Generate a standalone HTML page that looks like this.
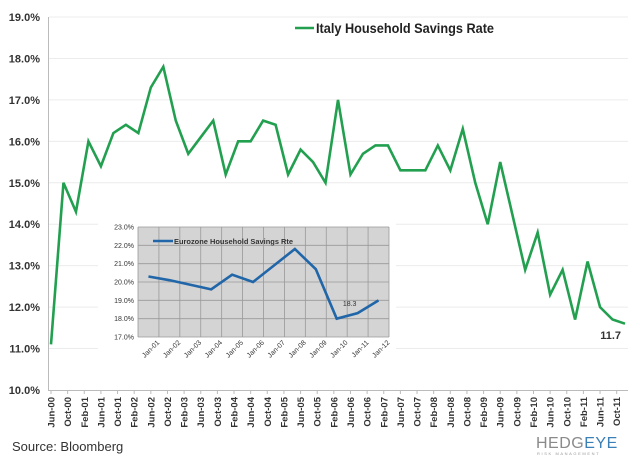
<!DOCTYPE html>
<html><head><meta charset="utf-8"><style>
body{margin:0;background:#fff;}
svg{display:block;font-family:"Liberation Sans",sans-serif;}
</style></head><body>
<svg id="c" width="640" height="465" viewBox="0 0 640 465">
<g id="main"></g>
<g id="inset"></g>
<text x="12" y="451" font-size="13" fill="#333">Source: Bloomberg</text>
<g>
<text x="536" y="448" font-size="16" fill="#8a8a8a" letter-spacing="0.5">HEDG<tspan fill="#3a7fb5">EYE</tspan></text>
<text x="537" y="455" font-size="4" fill="#999" letter-spacing="1.6">RISK MANAGEMENT</text>
</g>
</svg>
<script>
const NS="http://www.w3.org/2000/svg";
// main chart data (quarterly, Jun-00 .. Dec-11)
const italyValues=[11.1,15.0,14.3,16.0,15.4,16.2,16.4,16.2,17.3,17.8,16.5,15.7,16.1,16.5,15.2,16.0,16.0,16.5,16.4,15.2,15.8,15.5,15.0,17.0,15.2,15.7,15.9,15.9,15.3,15.3,15.3,15.9,15.3,16.3,15.0,14.0,15.5,14.2,12.9,13.8,12.3,12.9,11.7,13.1,12.0,11.7,11.6];
const xTickLabels=["Jun-00","Oct-00","Feb-01","Jun-01","Oct-01","Feb-02","Jun-02","Oct-02","Feb-03","Jun-03","Oct-03","Feb-04","Jun-04","Oct-04","Feb-05","Jun-05","Oct-05","Feb-06","Jun-06","Oct-06","Feb-07","Jun-07","Oct-07","Feb-08","Jun-08","Oct-08","Feb-09","Jun-09","Oct-09","Feb-10","Jun-10","Oct-10","Feb-11","Jun-11","Oct-11"];
const yTicks=[10,11,12,13,14,15,16,17,18,19];
// inset data
const euroCategories=["Jan-01","Jan-02","Jan-03","Jan-04","Jan-05","Jan-06","Jan-07","Jan-08","Jan-09","Jan-10","Jan-11","Jan-12"];
const euroValues=[20.3,20.1,19.85,19.6,20.4,20.0,20.9,21.8,20.7,18.0,18.3,19.0];
const euroTicks=[17,18,19,20,21,22,23];

function el(tag,attrs,parent,text){const e=document.createElementNS(NS,tag);for(const k in attrs)e.setAttribute(k,attrs[k]);if(text!=null)e.textContent=text;parent.appendChild(e);return e;}

const main=document.getElementById('main');
const X0=51,X1=625,Y10=390,Y19=17;
const xm=i=>X0+i*(X1-X0)/(italyValues.length-1); // month index /3
const xMonth=m=>X0+m*(X1-X0)/138;
const ym=v=>Y10-(v-10)*(Y10-Y19)/9;
yTicks.forEach(t=>{
  if(t>10){const g=el('line',{x1:49,x2:628,y1:ym(t),y2:ym(t),stroke:'#ececec','stroke-width':1},main);
  }
  const l=el('text',{x:40,y:ym(t)+4,'font-size':11,'font-weight':'bold','text-anchor':'end',fill:'#333'},main,t.toFixed(1)+'%');
  
});
el('line',{x1:48.5,x2:48.5,y1:17,y2:391,stroke:'#bbb'},main);
const xa=el('line',{x1:48,x2:628,y1:390.5,y2:390.5,stroke:'#bbb'},main);

xTickLabels.forEach((s,i)=>{
  const x=xMonth(i*4);
  el('line',{x1:x,x2:x,y1:390,y2:394,stroke:'#bbb'},main);
  const t=el('text',{x:0,y:0,'font-size':9.5,'font-weight':'bold',fill:'#333','text-anchor':'end',transform:`translate(${x+3.5},397) rotate(-90)`},main,s);
  
});
const pl=el('polyline',{points:italyValues.map((v,i)=>xm(i)+','+ym(v)).join(' '),fill:'none',stroke:'#22a050','stroke-width':2.6,'stroke-linejoin':'miter'},main);

const lab=el('text',{x:xm(italyValues.length-1)-4,y:339,'font-size':11,'font-weight':'bold','text-anchor':'end',fill:'#333'},main,italyValues[italyValues.length-1]===11.6?'11.7':italyValues[italyValues.length-1].toFixed(1));

const lg=el('g',{},main);

el('line',{x1:295,x2:314,y1:28,y2:28,stroke:'#22a050','stroke-width':2.6},lg);
el('text',{x:316,y:33,'font-size':13.5,'font-weight':'bold',fill:'#222',textLength:178,lengthAdjust:'spacingAndGlyphs'},lg,'Italy Household Savings Rate');

// inset
const ins=document.getElementById('inset');

el('rect',{x:98,y:214,width:298,height:160,fill:'#fff'},ins);
const IX0=138,IX1=389,IY0=337,IY1=227;
const bw=(IX1-IX0)/euroCategories.length;
const xi=i=>IX0+bw*(i+0.5);
const yi=v=>IY0-(v-17)*(IY0-IY1)/6;
el('rect',{x:IX0,y:IY1,width:IX1-IX0,height:IY0-IY1,fill:'#d4d4d4'},ins);
euroTicks.forEach(t=>{
  el('line',{x1:IX0,x2:IX1,y1:yi(t),y2:yi(t),stroke:'#999','stroke-width':0.8},ins);
  const l=el('text',{x:IX0-4,y:yi(t)+2.5,'font-size':7,'text-anchor':'end',fill:'#333'},ins,t.toFixed(1)+'%');
  
});
euroCategories.forEach((c,i)=>{
  const gx=IX0+bw*i;
  el('line',{x1:gx,x2:gx,y1:IY1,y2:IY0,stroke:'#999','stroke-width':0.8},ins);
  const t=el('text',{x:0,y:0,'font-size':7,'text-anchor':'end',fill:'#333',transform:`translate(${gx+bw+1},${IY0+6}) rotate(-45)`},ins,c);
  
});
el('line',{x1:IX1,x2:IX1,y1:IY1,y2:IY0,stroke:'#999','stroke-width':0.8},ins);
const ep=el('polyline',{points:euroValues.map((v,i)=>xi(i)+','+yi(v)).join(' '),fill:'none',stroke:'#2066a8','stroke-width':2.6},ins);

const el2=el('text',{x:xi(10)-8,y:yi(euroValues[10])-7,'font-size':7,fill:'#333','text-anchor':'middle'},ins,euroValues[10].toFixed(1));

el('line',{x1:153,x2:173,y1:241,y2:241,stroke:'#2066a8','stroke-width':2.6},ins);
el('text',{x:174,y:244,'font-size':7.2,'font-weight':'bold',fill:'#333',textLength:119,lengthAdjust:'spacingAndGlyphs'},ins,'Eurozone Household Savings Rte');
</script>
</body></html>
